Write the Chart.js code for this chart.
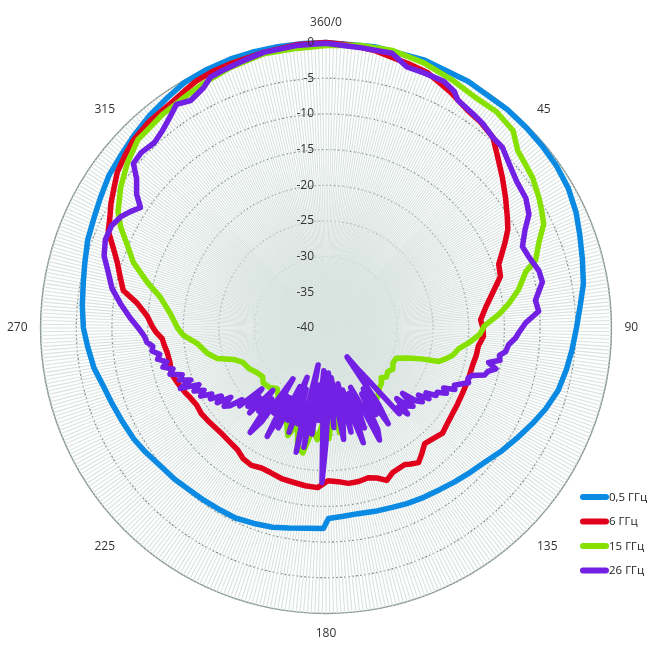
<!DOCTYPE html>
<html>
<head>
<meta charset="utf-8">
<script src="https://cdn.jsdelivr.net/npm/chart.js@4/dist/chart.umd.min.js"></script>
<style>
  html, body { margin: 0; padding: 0; background: #fff; }
  #wrap { position: relative; width: 651px; height: 650px; }
</style>
</head>
<body>
<div id="wrap"><canvas id="radar" width="651" height="650"></canvas></div>
<script>
// one category every 0.75 degree -> 480 spokes
const STEP = 0.75;
const angleLabels = ['360/0', '45', '90', '135', '180', '225', '270', '315'];
const seriesNames = ['0,5 ГГц', '6 ГГц', '15 ГГц', '26 ГГц'];
const seriesColors = ['#0a8ae2', '#e0001c', '#86e000', '#7221e4'];

// 0,5 GHz
const angles05 = [0, 10, 20, 30, 40, 45, 50, 55, 60, 65, 70, 75, 80, 85, 90, 95, 100, 105, 110, 115,
  120, 125, 130, 135, 140, 145, 150, 155, 160, 165, 170, 175, 179.25, 180.75, 185.25, 190.5, 195, 200.25,
  205.5, 210, 215.25, 220.5, 225, 230.25, 235.5, 240, 245.25, 250.5, 255, 260.25, 265.5, 270, 275.25,
  280.5, 285, 290.25, 295.5, 300, 305.25, 310.5, 315, 320.25, 325.5, 330, 335.25, 340.5, 345, 350.25, 355.5];
const values05 = [0, 0, 0, -0.1, -0.2, -0.3, -0.4, -0.5, -0.8, -1.4, -2.1, -2.8, -3.4, -4.2, -4.9, -5.4,
  -5.8, -6.3, -7.2, -8.1, -9.1, -10.0, -10.8, -11.4, -11.9, -12.3, -12.6, -12.9, -13.2, -13.4, -13.6, -13.5,
  -13.3, -11.9, -11.8, -11.5, -11.1, -10.8, -10.5, -10.5, -10.4, -10.3, -10.0, -9.8, -9.3, -8.9, -8.6, -8.2,
  -7.8, -7.0, -6.5, -6.0, -5.7, -5.4, -5.0, -4.4, -4.0, -3.5, -2.8, -2.4, -1.9, -1.3, -0.8, -0.3, -0.1,
  0, 0, 0, 0];

// 6 GHz
const angles6 = [0, 5, 10, 17, 22, 28, 33, 37, 41, 45, 49.5, 54, 58.5, 61.5, 64.5, 67.5, 69.75, 73.5, 78,
  82.5, 87, 90, 93, 96.75, 100.5, 104.25, 109.5, 115.5, 120, 123.75, 129, 132, 135.75, 139.5, 142.5, 145.5,
  148.5, 150, 155.25, 158.25, 161.25, 164.25, 168, 171.75, 175.5, 179.25, 183, 187.5, 192, 196.5, 201,
  204.75, 208.5, 212.25, 216, 220.5, 225, 231, 235.5, 239.25, 243, 245.25, 249.75, 253.5, 257.25, 261,
  264, 266.25, 268.5, 270.75, 273.75, 277.5, 280.5, 284.25, 287.25, 290.25, 294, 297, 300, 303, 306.75,
  310.5, 314.25, 319.5, 325.5, 329.25, 332.25, 336, 340.5, 347.25, 354];
const values6 = [0, -0.2, -0.5, -1.2, -1.5, -2.6, -3.6, -3.9, -4.5, -6.0, -7.5, -8.9, -10.2, -11.0, -12.2,
  -13.4, -14.2, -14.5, -16.1, -17.4, -18.3, -18.0, -17.9, -18.5, -18.6, -18.8, -18.8, -18.8, -18.7, -18.6,
  -18.3, -18.0, -18.4, -18.7, -17.9, -17.1, -17.6, -17.9, -17.7, -17.0, -17.8, -18.2, -18.0, -18.0, -18.4,
  -18.6, -17.6, -17.7, -17.9, -18.0, -18.3, -18.4, -18.1, -18.3, -18.9, -19.1, -19.2, -19.0, -18.8, -18.9,
  -18.6, -18.3, -17.8, -17.4, -17.6, -17.5, -17.2, -17.0, -16.2, -15.6, -14.9, -13.3, -11.1, -10.2, -9.4,
  -8.3, -6.6, -6.0, -5.2, -4.5, -3.5, -2.9, -2.3, -1.9, -1.7, -1.3, -0.9, -0.7, -0.6, -0.4, -0.1];

// 15 GHz
const angles15 = [0, 6.75, 13.5, 20.25, 27, 33, 38.25, 43.5, 47.25, 50.25, 54, 58.5, 61.5, 64.5, 68.25, 72,
  74.25, 78.75, 82.5, 85.5, 89.25, 92.25, 96, 99, 102, 104.25, 106.5, 108, 110.25, 113.25, 117.75, 121.5,
  125.25, 129, 132, 135, 138, 141, 145.5, 149.25, 152.25, 156, 159, 163.5, 166.5, 169.5, 172.5, 175.5,
  178.5, 181.5, 184.5, 187.5, 190.5, 193.5, 196.5, 199.5, 202.5, 206.25, 210, 214.5, 219, 223.5, 228.75,
  232.5, 237, 242.25, 247.5, 251.25, 254.25, 258, 263.25, 267, 270, 275.25, 280.5, 284.25, 288.75, 292.5,
  296.25, 299.25, 304.5, 309.75, 315, 318.75, 322.5, 327.75, 333, 339.75, 347.25, 354];
const values15 = [-0.4, -0.1, 0, -0.4, -1.0, -1.5, -1.4, -1.9, -3.4, -3.8, -4.2, -5.0, -5.6, -6.2, -7.9,
  -9.1, -10.9, -12.5, -14.2, -15.7, -17.8, -18.4, -19.9, -21.2, -21.8, -22.6, -23.5, -26.0, -27.9, -29.3,
  -29.4, -29.0, -29.4, -29.1, -29.6, -29.0, -28.8, -28.3, -27.6, -27.3, -26.6, -27.5, -27.3, -28.4, -27.2,
  -27.8, -25.2, -28.0, -24.5, -27.0, -24.3, -25.6, -22.2, -22.9, -26.0, -24.0, -25.6, -27.0, -26.5, -28.2,
  -29.1, -28.5, -28.3, -28.8, -28.5, -27.8, -27.4, -26.3, -24.2, -23.0, -21.8, -20.0, -19.2, -18.1, -16.4,
  -14.2, -11.5, -9.9, -7.9, -6.6, -5.1, -3.8, -2.7, -2.6, -2.3, -2.1, -1.7, -1.1, -0.6, -0.6];

// 26 GHz
const angles26 = [0, 6.75, 13.5, 17.25, 21, 25.5, 28.5, 30, 34.5, 37.5, 41.25, 44.25, 48, 52.5, 57, 60.75,
  63.75, 67.5, 70.5, 75, 78, 82.5, 85.5, 88.5, 91.5, 93, 95.25, 97.5, 99, 100.5, 102, 103.5, 105, 106.5,
  108, 109.5, 111, 112.5, 114, 115.5, 117, 118.5, 120, 121.5,
  123, 124.5, 126, 127.5, 129, 130.5, 132, 133.5, 135, 136.5, 138, 139.5, 141, 142.5, 144, 145.5, 147,
  148.5, 150, 151.5, 153, 154.5, 156, 157.5, 159, 160.5, 162, 163.5, 165, 166.5, 168, 169.5, 171, 172.5,
  174, 175.5, 177, 178.5, 180, 181.5, 183, 184.5, 186, 187.5, 189, 190.5, 192, 193.5, 195, 196.5, 198,
  199.5, 201, 202.5, 204, 205.5, 207, 208.5, 210, 211.5, 213, 214.5, 216, 217.5, 219, 220.5, 222, 223.5,
  225, 226.5, 228, 229.5, 231, 232.5, 234, 235.5, 237, 238.5, 240, 241.5, 243, 244.5, 246, 247.5, 249,
  250.5, 252, 253.5, 255, 256.5, 258, 259.5, 261, 262.5, 264, 265.5, 267, 268.5, 270, 273, 276.75, 280.5,
  285, 288, 291.75, 295.5, 298.5, 300.75, 303, 305.25, 308.25, 310.5, 313.5, 317.25, 320.25, 323.25,
  326.25, 329.25, 333, 335.25, 338.25, 342.75, 347.25, 354];
const values26 = [-0.1, -0.4, -0.4, -1.7, -1.7, -1.7, -2.3, -3.1, -3.6, -3.9, -4.5, -4.6, -5.5, -6.3, -6.6,
  -7.4, -8.9, -10.2, -9.9, -9.1, -9.0, -10.4, -10.1, -12.0, -13.0, -13.4, -14.3, -14.6, -15.4, -15.2,
  -16.7, -15.5, -16.5, -16.8, -18.5, -18.9, -18.6, -19.5, -20.3, -20.0, -21.5, -20.8, -22.0, -21.9,
  -23.3, -22.5, -24.0, -23.0, -23.8, -25.9, -23.6, -24.1, -26.0, -23.4, -25.0, -24.2, -30.5, -33.0, -35.0,
  -27.0, -24.0, -30.0, -26.0, -29.5, -24.0, -22.6, -29.0, -31.0, -25.0, -30.3, -23.1, -27.0, -31.0, -25.0,
  -32.0, -27.0, -24.2, -30.0, -33.0, -26.0, -33.7, -29.0, -24.0, -18.3, -34.0, -27.0, -32.0, -25.0, -31.0,
  -23.0, -34.7, -22.1, -29.0, -26.0, -31.0, -24.5, -32.6, -26.0, -31.0, -24.5, -29.0, -22.7, -29.0, -26.0,
  -31.5, -24.0, -21.9, -27.5, -25.0, -28.5, -24.0, -26.5, -24.5, -27.6, -23.7, -24.5, -22.7, -22.0, -23.5,
  -21.5, -22.5, -21.0, -21.5, -20.0, -20.8, -19.5, -20.5, -17.9, -19.7, -18.2, -18.8, -17.2, -17.8, -16.5,
  -17.2, -16.0, -16.4, -15.4, -15.6, -14.8, -14.6, -14.2, -13.7, -12.5, -11.0, -9.5, -8.3, -7.3, -6.7,
  -6.7, -7.3, -8.1, -9.0, -7.5, -6.2, -4.5, -4.3, -4.6, -4.1, -3.3, -2.3, -2.9, -2.2, -1.3, -1.1, -0.8,
  -0.4, -0.2];

const spokeCount = Math.round(360 / STEP);
const labels = [];
for (let i = 0; i < spokeCount; i++) {
  const deg = i * STEP;
  labels.push(deg % 45 === 0 ? angleLabels[deg / 45] : '');
}

function toData(angles, values) {
  const data = new Array(spokeCount).fill(null);
  angles.forEach((a, k) => { data[Math.round(a / STEP) % spokeCount] = values[k]; });
  return data;
}

const seriesAngles = [angles05, angles6, angles15, angles26];
const seriesValues = [values05, values6, values15, values26];

const FONT = '"Open Sans", "Noto Sans", sans-serif';

// radial value labels, drawn left of the vertical axis
const tickLabels = {
  id: 'tickLabels',
  afterDatasetsDraw(chart) {
    const s = chart.scales.r;
    const ctx = chart.ctx;
    ctx.save();
    ctx.font = '12px ' + FONT;
    ctx.fillStyle = '#333';
    ctx.textAlign = 'right';
    ctx.textBaseline = 'middle';
    s.ticks.forEach(t => {
      ctx.fillText(t.label, s.xCenter - 12, s.yCenter - s.getDistanceFromCenterForValue(t.value));
    });
    ctx.restore();
  }
};

// legend in the lower right corner
const cornerLegend = {
  id: 'cornerLegend',
  afterDraw(chart) {
    const ctx = chart.ctx;
    ctx.save();
    ctx.font = '11.5px ' + FONT;
    ctx.textBaseline = 'middle';
    ctx.textAlign = 'left';
    chart.data.datasets.forEach((ds, i) => {
      const y = 497 + i * 24.5;
      ctx.strokeStyle = ds.borderColor;
      ctx.lineWidth = 6;
      ctx.lineCap = 'round';
      ctx.beginPath();
      ctx.moveTo(583, y);
      ctx.lineTo(606, y);
      ctx.stroke();
      ctx.fillStyle = '#222';
      ctx.fillText(ds.label, 609, y + 0.5);
    });
    ctx.restore();
  }
};

new Chart(document.getElementById('radar'), {
  type: 'radar',
  data: {
    labels: labels,
    datasets: seriesNames.map((name, i) => ({
      label: name,
      data: toData(seriesAngles[i], seriesValues[i]),
      borderColor: seriesColors[i],
      backgroundColor: 'transparent',
      borderWidth: 5.5,
      borderJoinStyle: 'round',
      borderCapStyle: 'round',
      pointRadius: 0,
      fill: false,
      spanGaps: true,
      tension: 0,
      order: 3 - i
    }))
  },
  options: {
    responsive: false,
    animation: false,
    devicePixelRatio: 1,
    layout: { padding: { left: 4, right: 9, top: 6, bottom: 0 } },
    plugins: { legend: { display: false }, tooltip: { enabled: false } },
    scales: {
      r: {
        min: -40,
        max: 0,
        ticks: { stepSize: 5, display: false },
        grid: {
          circular: true,
          color: c => (c.tick && c.tick.value === 0) ? '#8a9995' : '#7a8884',
          lineWidth: c => (c.tick && c.tick.value === 0) ? 1.5 : 1.3
        },
        border: {
          dash: c => (c.tick && c.tick.value === 0) ? [] : [2, 2]
        },
        angleLines: { color: '#d9e3e0', lineWidth: 1.1 },
        pointLabels: {
          font: { family: FONT, size: 12 },
          color: '#333',
          padding: 13
        }
      }
    }
  },
  plugins: [tickLabels, cornerLegend]
});
</script>
</body>
</html>
